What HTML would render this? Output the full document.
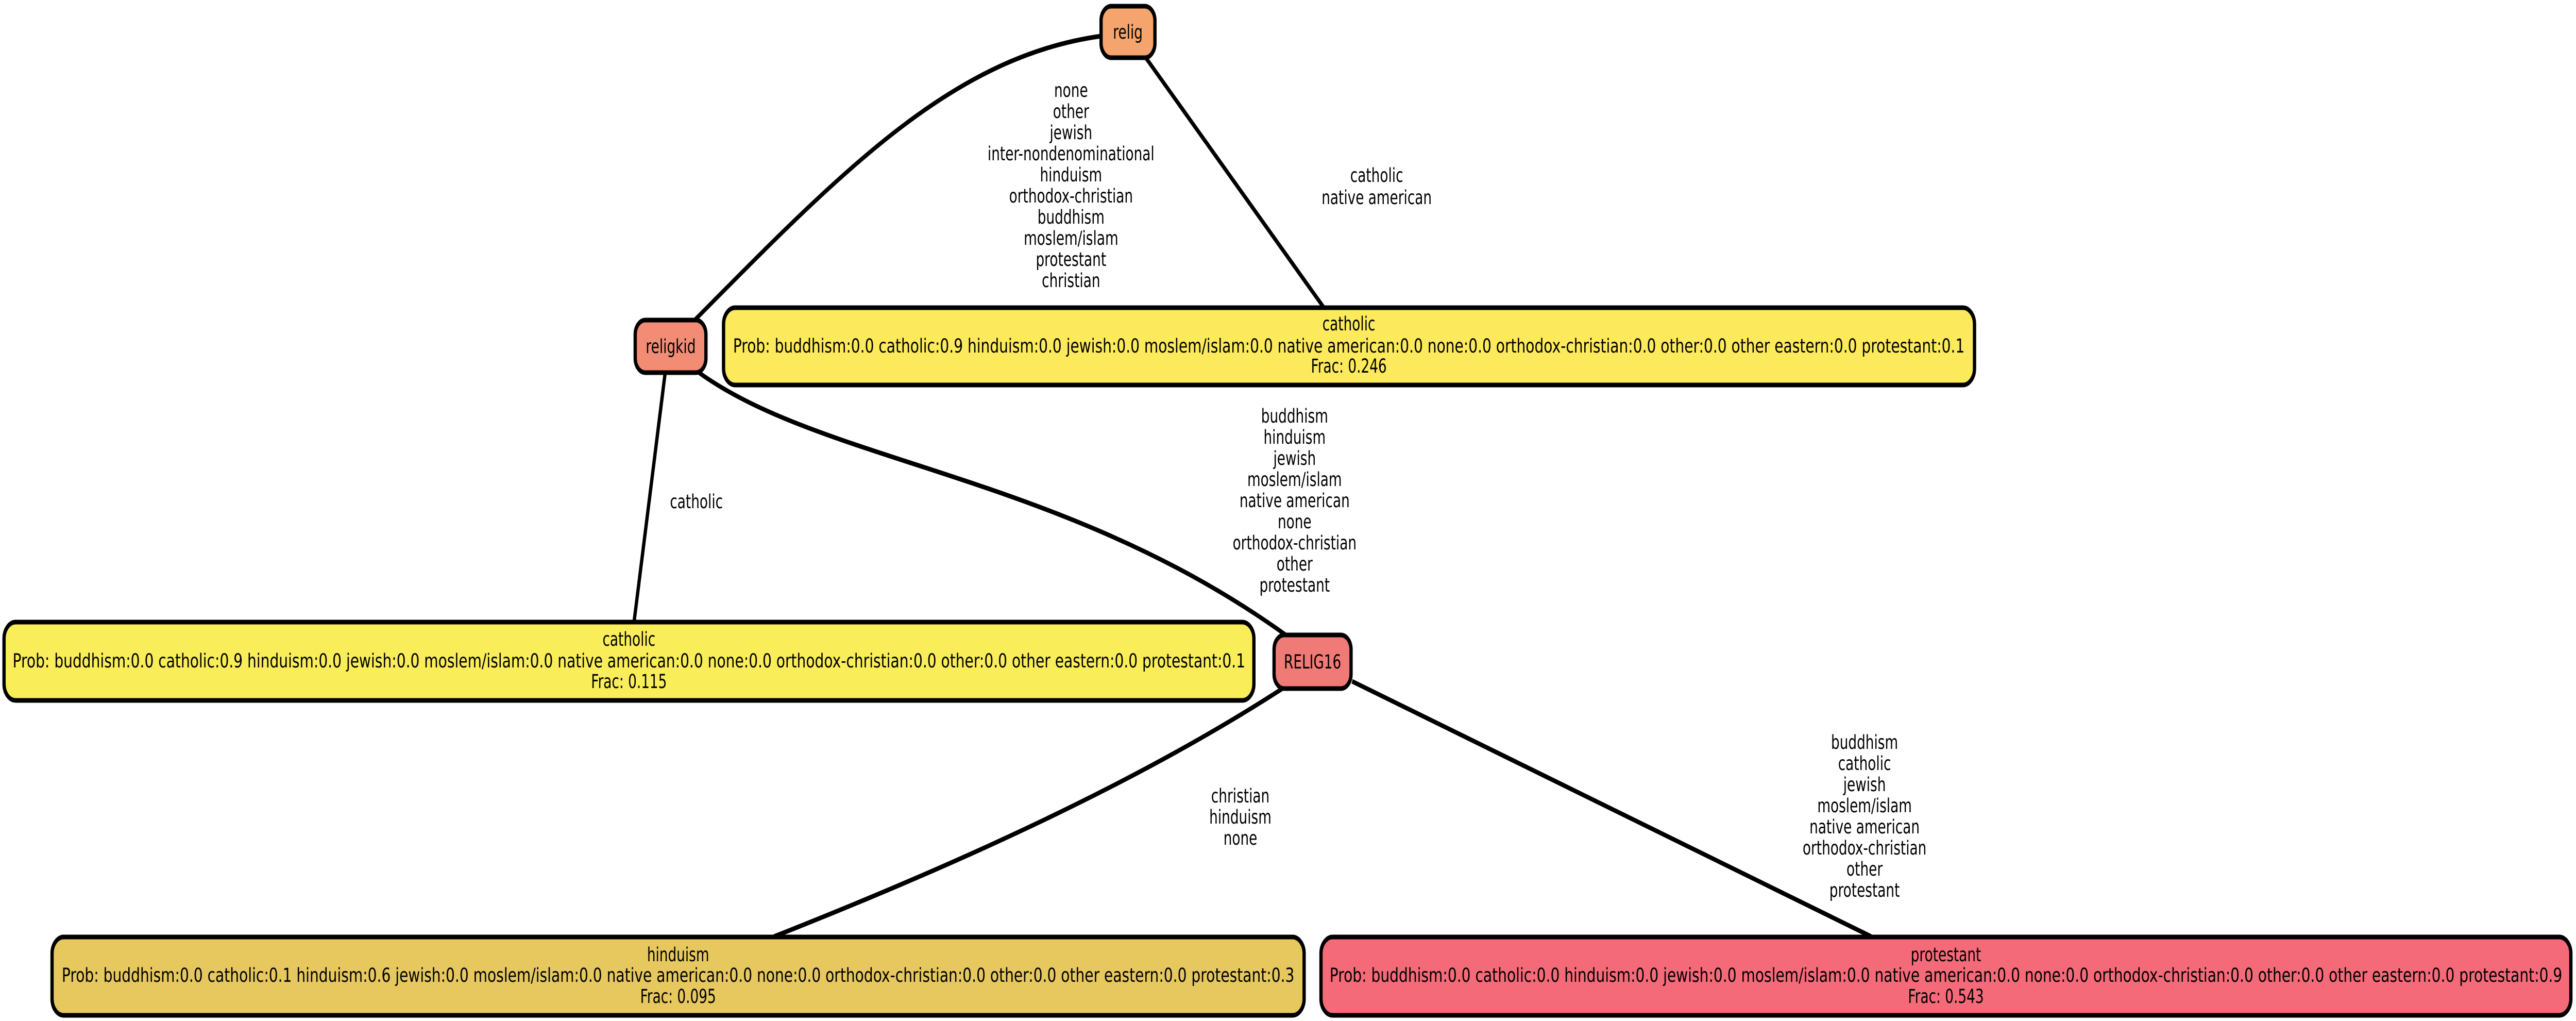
<!DOCTYPE html>
<html><head><meta charset="utf-8"><style>
html,body{margin:0;padding:0;background:#fff;width:100%;height:100%;overflow:hidden;}
svg{display:block;width:100vw;height:100vh;}
text{font-family:"DejaVu Sans","Liberation Sans",sans-serif;font-size:37px;fill:#000;text-anchor:middle;}
</style></head><body>
<svg viewBox="0 0 7028 1981" preserveAspectRatio="none" xmlns="http://www.w3.org/2000/svg">
<g fill="none" stroke="#000" stroke-width="9">
<path d="M1894,622 C2300,330 2600,110 3004,70"/>
<path d="M3126,112 L3611,596"/>
<path d="M1815,722 L1730,1206"/>
<path d="M1905,722 C2250,900 2900,920 3510,1233"/>
<path d="M3501,1335 C3100,1520 2600,1680 2112,1817"/>
<path d="M3689,1322 L5105,1817"/>
</g>
<g stroke="#000" stroke-width="9">
<rect x="3004" y="12" width="147" height="100" rx="28" fill="#f4a46c"/>
<rect x="1733" y="621" width="193" height="102" rx="28" fill="#f28c74"/>
<rect x="1974" y="597" width="3413" height="150" rx="32" fill="#fcea5c"/>
<rect x="11" y="1207" width="3410" height="152" rx="32" fill="#f9ed5a"/>
<rect x="3476" y="1232" width="210" height="104" rx="28" fill="#f07a76"/>
<rect x="142" y="1818" width="3416" height="152" rx="32" fill="#e6c85f"/>
<rect x="3604" y="1818" width="3410" height="152" rx="32" fill="#f46a78"/>
</g>
<text x="3077" y="75">relig</text>
<text x="1830" y="685">religkid</text>
<text x="3581" y="1297">RELIG16</text>

<text x="3680" y="641">catholic</text>
<text x="3680" y="684" textLength="3360" lengthAdjust="spacingAndGlyphs">Prob: buddhism:0.0 catholic:0.9 hinduism:0.0 jewish:0.0 moslem/islam:0.0 native american:0.0 none:0.0 orthodox-christian:0.0 other:0.0 other eastern:0.0 protestant:0.1</text>
<text x="3680" y="723">Frac: 0.246</text>

<text x="1716" y="1253">catholic</text>
<text x="1716" y="1295" textLength="3363" lengthAdjust="spacingAndGlyphs">Prob: buddhism:0.0 catholic:0.9 hinduism:0.0 jewish:0.0 moslem/islam:0.0 native american:0.0 none:0.0 orthodox-christian:0.0 other:0.0 other eastern:0.0 protestant:0.1</text>
<text x="1716" y="1335">Frac: 0.115</text>

<text x="1850" y="1865">hinduism</text>
<text x="1850" y="1905" textLength="3363" lengthAdjust="spacingAndGlyphs">Prob: buddhism:0.0 catholic:0.1 hinduism:0.6 jewish:0.0 moslem/islam:0.0 native american:0.0 none:0.0 orthodox-christian:0.0 other:0.0 other eastern:0.0 protestant:0.3</text>
<text x="1850" y="1946">Frac: 0.095</text>

<text x="5309" y="1865">protestant</text>
<text x="5309" y="1905" textLength="3363" lengthAdjust="spacingAndGlyphs">Prob: buddhism:0.0 catholic:0.0 hinduism:0.0 jewish:0.0 moslem/islam:0.0 native american:0.0 none:0.0 orthodox-christian:0.0 other:0.0 other eastern:0.0 protestant:0.9</text>
<text x="5309" y="1946">Frac: 0.543</text>

<text x="2922" y="188">none</text>
<text x="2922" y="229">other</text>
<text x="2922" y="270">jewish</text>
<text x="2922" y="311">inter-nondenominational</text>
<text x="2922" y="352">hinduism</text>
<text x="2922" y="393">orthodox-christian</text>
<text x="2922" y="434">buddhism</text>
<text x="2922" y="475">moslem/islam</text>
<text x="2922" y="516">protestant</text>
<text x="2922" y="557">christian</text>

<text x="3756" y="353">catholic</text>
<text x="3756" y="396">native american</text>

<text x="1900" y="986">catholic</text>

<text x="3532" y="820">buddhism</text>
<text x="3532" y="861">hinduism</text>
<text x="3532" y="902">jewish</text>
<text x="3532" y="943">moslem/islam</text>
<text x="3532" y="984">native american</text>
<text x="3532" y="1025">none</text>
<text x="3532" y="1066">orthodox-christian</text>
<text x="3532" y="1107">other</text>
<text x="3532" y="1148">protestant</text>

<text x="3384" y="1557">christian</text>
<text x="3384" y="1598">hinduism</text>
<text x="3384" y="1639">none</text>

<text x="5087" y="1453">buddhism</text>
<text x="5087" y="1494">catholic</text>
<text x="5087" y="1535">jewish</text>
<text x="5087" y="1576">moslem/islam</text>
<text x="5087" y="1617">native american</text>
<text x="5087" y="1658">orthodox-christian</text>
<text x="5087" y="1699">other</text>
<text x="5087" y="1740">protestant</text>
</svg>
</body></html>
